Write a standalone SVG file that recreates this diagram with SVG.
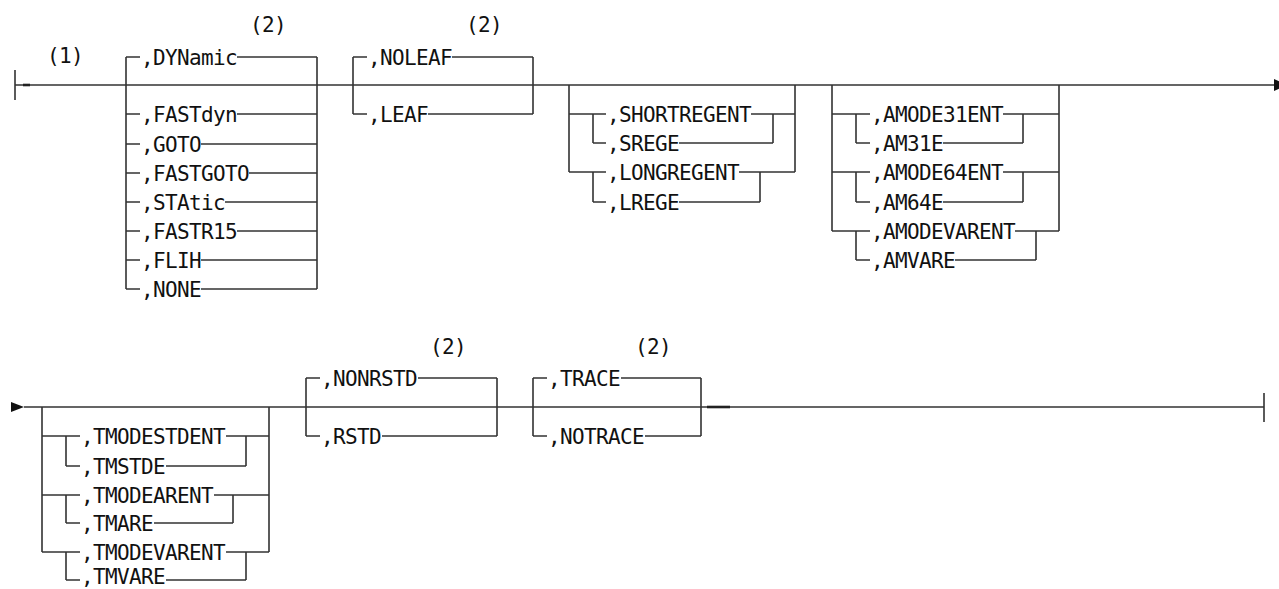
<svg xmlns="http://www.w3.org/2000/svg" width="1279" height="589" viewBox="0 0 1279 589">
<style>
.ln{fill:none;stroke:#333;stroke-width:1.6}
.hv{fill:none;stroke:#222;stroke-width:2.6}
.t{font-family:"DejaVu Sans Mono","Liberation Mono",monospace;font-size:21px;letter-spacing:-0.64px;fill:#111}
.ar{fill:#111}
</style>
<rect width="1279" height="589" fill="#fff"/>
<g id="connectors">
<!-- row 1 -->
<path class="ln" d="M15 70V100M15 85H1276"/>
<path class="hv" d="M23 85H30"/>
<polygon class="ar" points="1274,79 1287,85 1274,91"/>
<!-- col1 -->
<path class="ln" d="M126 57V289M317 57V289"/>
<path class="ln" d="M126 57H140M237 57H317M126 114H140M237 114H317M126 144H140M201 144H317M126 173H140M249 173H317M126 202H140M225 202H317M126 231H140M237 231H317M126 260H140M201 260H317M126 289H140M201 289H317"/>
<!-- col2 -->
<path class="ln" d="M353 57V114M533 57V114M353 57H367M452 57H533M353 114H367M428 114H533"/>
<!-- col3 -->
<path class="ln" d="M569 85V172M795 85V172M569 114H593M569 172H593M593 114V143M593 172V202M773 114V143M760 172V202"/>
<path class="ln" d="M593 114H606M751 114H795M593 143H606M679 143H773M593 172H606M739 172H795M593 202H606M679 202H760"/>
<!-- col4 -->
<path class="ln" d="M832 85V231M1059 85V231M832 114H856M832 172H856M832 231H856M856 114V143M856 172V202M856 231V260M1023 114V143M1023 172V202M1036 231V260"/>
<path class="ln" d="M856 114H870M1003 114H1059M856 143H870M943 143H1023M856 172H870M1003 172H1059M856 202H870M943 202H1023M856 231H870M1015 231H1059M856 260H870M955 260H1036"/>
<!-- row 2 -->
<polygon class="ar" points="11,402 24,407 11,412"/>
<path class="ln" d="M24 407H1264M1264 393V422"/>
<path class="hv" d="M707 407H730"/>
<!-- colA -->
<path class="ln" d="M42 407V552M269 407V552M42 436H66M42 495H66M42 552H66M66 436V466M66 495V523M66 552V580M246 436V466M233 495V523M246 552V580"/>
<path class="ln" d="M66 436H80M226 436H269M66 466H80M166 466H246M66 495H80M214 495H269M66 523H80M154 523H233M66 552H80M226 552H269M66 580H80M166 580H246"/>
<!-- colB -->
<path class="ln" d="M306 378V436M497 378V436M306 378H320M418 378H497M306 436H320M382 436H497"/>
<!-- colC -->
<path class="ln" d="M533 378V436M701 378V436M533 378H547M621 378H701M533 436H547M645 436H701"/>
</g>
<g id="note1"><text class="t" x="47" y="63">(1)</text></g>
<g id="note2a"><text class="t" x="250" y="32">(2)</text></g>
<g id="note2b"><text class="t" x="466" y="32">(2)</text></g>
<g id="note2c"><text class="t" x="430" y="354">(2)</text></g>
<g id="note2d"><text class="t" x="635" y="354">(2)</text></g>
<g id="opt-dynamic"><text class="t" x="141" y="64.5">,DYNamic</text></g>
<g id="opt-fastdyn"><text class="t" x="141" y="121.5">,FASTdyn</text></g>
<g id="opt-goto"><text class="t" x="141" y="151.5">,GOTO</text></g>
<g id="opt-fastgoto"><text class="t" x="141" y="180.5">,FASTGOTO</text></g>
<g id="opt-static"><text class="t" x="141" y="209.5">,STAtic</text></g>
<g id="opt-fastr15"><text class="t" x="141" y="238.5">,FASTR15</text></g>
<g id="opt-flih"><text class="t" x="141" y="267.5">,FLIH</text></g>
<g id="opt-none"><text class="t" x="141" y="296.5">,NONE</text></g>
<g id="opt-noleaf"><text class="t" x="368" y="64.5">,NOLEAF</text></g>
<g id="opt-leaf"><text class="t" x="368" y="121.5">,LEAF</text></g>
<g id="opt-shortregent"><text class="t" x="607" y="121.5">,SHORTREGENT</text></g>
<g id="opt-srege"><text class="t" x="607" y="150.5">,SREGE</text></g>
<g id="opt-longregent"><text class="t" x="607" y="179.5">,LONGREGENT</text></g>
<g id="opt-lrege"><text class="t" x="607" y="209.5">,LREGE</text></g>
<g id="opt-amode31ent"><text class="t" x="871" y="121.5">,AMODE31ENT</text></g>
<g id="opt-am31e"><text class="t" x="871" y="150.5">,AM31E</text></g>
<g id="opt-amode64ent"><text class="t" x="871" y="179.5">,AMODE64ENT</text></g>
<g id="opt-am64e"><text class="t" x="871" y="209.5">,AM64E</text></g>
<g id="opt-amodevarent"><text class="t" x="871" y="238.5">,AMODEVARENT</text></g>
<g id="opt-amvare"><text class="t" x="871" y="267.5">,AMVARE</text></g>
<g id="opt-tmodestdent"><text class="t" x="81" y="443.5">,TMODESTDENT</text></g>
<g id="opt-tmstde"><text class="t" x="81" y="473.5">,TMSTDE</text></g>
<g id="opt-tmodearent"><text class="t" x="81" y="502.5">,TMODEARENT</text></g>
<g id="opt-tmare"><text class="t" x="81" y="530.5">,TMARE</text></g>
<g id="opt-tmodevarent"><text class="t" x="81" y="559.5">,TMODEVARENT</text></g>
<g id="opt-tmvare"><text class="t" x="81" y="584">,TMVARE</text></g>
<g id="opt-nonrstd"><text class="t" x="321" y="385.5">,NONRSTD</text></g>
<g id="opt-rstd"><text class="t" x="321" y="443.5">,RSTD</text></g>
<g id="opt-trace"><text class="t" x="548" y="385.5">,TRACE</text></g>
<g id="opt-notrace"><text class="t" x="548" y="443.5">,NOTRACE</text></g>
</svg>
